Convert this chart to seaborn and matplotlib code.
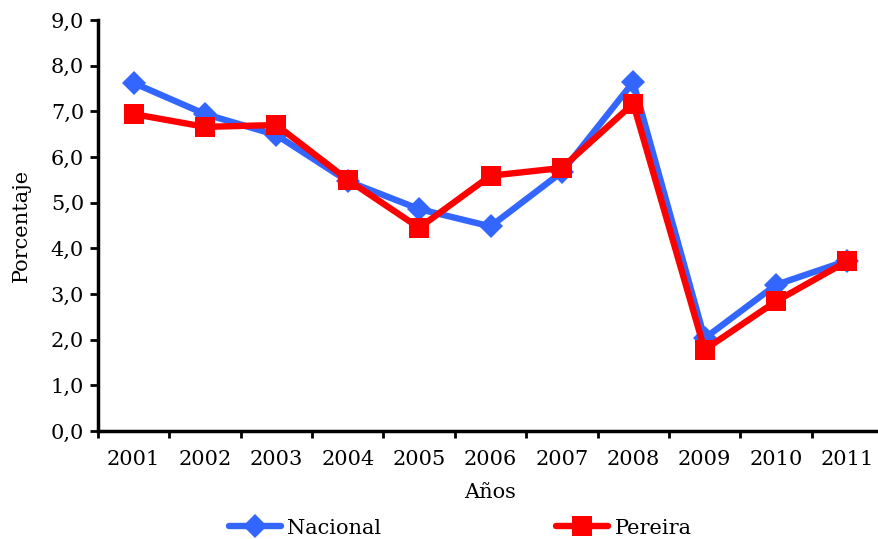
import matplotlib
matplotlib.use("Agg")
import matplotlib.pyplot as plt
import seaborn as sns
import pandas as pd
from matplotlib.ticker import FixedLocator, FuncFormatter

years = ["2001", "2002", "2003", "2004", "2005", "2006", "2007", "2008", "2009", "2010", "2011"]
nacional = [7.62, 6.94, 6.48, 5.47, 4.86, 4.48, 5.67, 7.64, 2.03, 3.20, 3.73]
pereira = [6.94, 6.66, 6.70, 5.50, 4.45, 5.59, 5.76, 7.17, 1.78, 2.84, 3.72]

df = pd.DataFrame({
    "Año": years * 2,
    "Valor": nacional + pereira,
    "Serie": ["Nacional"] * len(years) + ["Pereira"] * len(years),
})

sns.set_style("white")
plt.rcParams["font.family"] = ["DejaVu Serif"]
plt.rcParams["text.color"] = "black"
plt.rcParams["axes.labelcolor"] = "black"
plt.rcParams["xtick.color"] = "black"
plt.rcParams["ytick.color"] = "black"

fig = plt.figure(figsize=(8.79, 5.39), dpi=100)
W, H = 879, 539
ax = fig.add_axes([98 / W, 1 - 431 / H, (883 - 98) / W, (431 - 20) / H])

palette = {"Nacional": "#3366FF", "Pereira": "#FF0000"}
markers = {"Nacional": "D", "Pereira": "s"}
sns.lineplot(data=df, x="Año", y="Valor", hue="Serie", style="Serie",
             hue_order=["Nacional", "Pereira"], style_order=["Nacional", "Pereira"],
             palette=palette, markers=markers, dashes=False, linewidth=4.6,
             markersize=13, markeredgewidth=0, legend=False, ax=ax)
ax.lines[0].set_markersize(12)
ax.lines[1].set_markersize(14.5)

ax.set_xlim(-0.5, len(years) - 0.5)
ax.set_ylim(0, 9)
ax.set_yticks([i for i in range(10)])
ax.yaxis.set_major_formatter(FuncFormatter(lambda v, p: f"{v:.1f}".replace(".", ",")))
ax.xaxis.set_minor_locator(FixedLocator([i - 0.5 for i in range(len(years) + 1)]))
ax.tick_params(axis="x", which="major", length=0, labelsize=15, pad=14)
ax.tick_params(axis="x", which="minor", length=5, width=2, direction="out", color="black")
ax.tick_params(axis="y", which="major", length=6, width=2, direction="out", labelsize=15, pad=4, color="black")
ax.xaxis.set_ticks_position("bottom")
ax.yaxis.set_ticks_position("left")

for s in ["top", "right"]:
    ax.spines[s].set_visible(False)
for s in ["left", "bottom"]:
    ax.spines[s].set_linewidth(2.5)
    ax.spines[s].set_color("black")

ax.set_xlabel("Años", fontsize=15, labelpad=10)
ax.set_ylabel("Porcentaje", fontsize=15, labelpad=14)

handles = [ax.lines[0], ax.lines[1]]
fig.legend(handles, ["Nacional", "Pereira"], loc="center", bbox_to_anchor=(460 / W, 1 - 528 / H),
           ncol=2, frameon=False, fontsize=15, handlelength=2.5, columnspacing=8.4,
           handletextpad=0.3, borderpad=0)

fig.savefig("out.png", dpi=100)
